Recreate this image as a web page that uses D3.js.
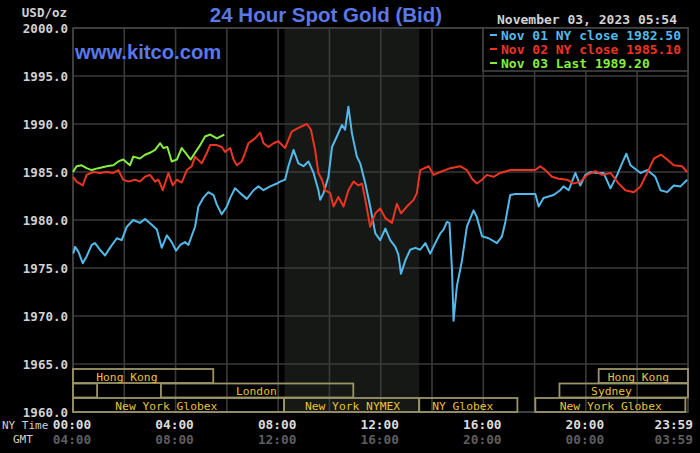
<!DOCTYPE html>
<html><head><meta charset="utf-8">
<script src="https://cdn.jsdelivr.net/npm/d3@7/dist/d3.min.js"></script>
<style>
html,body{margin:0;padding:0;background:#000;}
svg{display:block;}
</style></head><body>
<svg id="c" width="700" height="453"></svg>
<script>
// ---- data ----
const nov01Hours = [0.01,0.08,0.21,0.38,0.53,0.73,0.86,1.05,1.25,1.44,1.71,1.90,2.10,2.35,2.61,2.81,3.07,3.27,3.46,3.66,3.85,4.02,4.18,4.37,4.50,4.76,4.89,5.08,5.28,5.48,5.61,5.80,6.00,6.13,6.32,6.52,6.78,7.04,7.23,7.43,7.69,7.95,8.08,8.27,8.40,8.60,8.79,8.99,9.18,9.38,9.57,9.64,9.77,9.96,10.10,10.29,10.49,10.61,10.74,10.88,11.07,11.20,11.40,11.59,11.79,11.98,12.18,12.37,12.57,12.69,12.79,12.96,13.15,13.35,13.54,13.74,13.93,14.13,14.32,14.45,14.58,14.68,14.78,14.84,14.97,15.17,15.36,15.62,15.75,15.95,16.21,16.53,16.73,16.86,17.05,17.25,18.03,18.16,18.35,18.74,19.00,19.13,19.33,19.59,19.78,19.98,20.18,20.44,20.69,20.96,21.22,21.41,21.58,21.74,22.13,22.39,22.71,22.91,23.17,23.43,23.69,23.95];
const nov01Prices = [1976.5,1977.2,1976.7,1975.5,1976.2,1977.4,1977.6,1976.9,1976.3,1977.1,1978.1,1977.9,1979.3,1980.0,1979.7,1980.1,1979.5,1979.0,1977.1,1978.4,1977.7,1976.8,1977.4,1977.7,1977.4,1979.3,1981.4,1982.3,1982.9,1982.6,1981.6,1980.6,1981.4,1982.3,1983.3,1982.8,1982.2,1983.1,1983.5,1983.1,1983.5,1983.8,1984.0,1984.2,1985.6,1987.3,1985.9,1985.6,1986.1,1984.9,1983.1,1982.1,1982.8,1984.5,1987.6,1988.7,1989.9,1989.4,1991.8,1989.0,1986.6,1985.9,1983.8,1981.4,1978.6,1977.9,1979.1,1977.9,1977.2,1976.4,1974.4,1975.8,1976.9,1977.1,1976.9,1977.6,1976.5,1977.6,1978.6,1979.0,1979.8,1979.7,1974.8,1969.5,1973.1,1975.8,1979.3,1981.0,1980.3,1978.3,1978.1,1977.6,1978.3,1979.8,1982.6,1982.7,1982.7,1981.4,1982.3,1982.6,1983.1,1983.5,1983.1,1984.9,1983.6,1984.7,1985.0,1984.9,1984.9,1983.3,1984.7,1985.9,1986.9,1985.7,1984.9,1985.2,1984.5,1983.1,1982.9,1983.6,1983.5,1984.2];

const nov02Hours = [0,0.14,0.38,0.53,0.79,1.05,1.32,1.57,1.77,1.96,2.16,2.42,2.61,2.81,3.00,3.20,3.33,3.50,3.72,3.89,4.05,4.24,4.44,4.63,4.76,5.02,5.22,5.35,5.61,5.80,5.93,6.13,6.26,6.39,6.58,6.71,6.84,7.10,7.30,7.43,7.62,7.82,8.01,8.27,8.53,8.79,9.12,9.28,9.44,9.57,9.71,9.83,10.03,10.16,10.35,10.55,10.74,10.94,11.13,11.27,11.40,11.59,11.79,11.98,12.18,12.44,12.63,12.79,13.02,13.28,13.41,13.54,13.87,14.06,14.32,14.71,15.10,15.36,15.56,15.75,15.95,16.14,16.40,16.66,17.05,18.03,18.22,18.42,18.68,18.94,19.27,19.52,19.79,20.05,20.37,20.63,20.96,21.28,21.54,21.87,22.13,22.39,22.65,22.93,23.17,23.43,23.75,23.95];
const nov02Prices = [1984.5,1984.0,1983.6,1984.7,1985.0,1984.9,1985.0,1984.9,1985.2,1984.2,1984.0,1984.2,1984.0,1984.5,1984.7,1984.0,1984.2,1983.1,1984.9,1983.6,1984.2,1983.9,1985.2,1985.6,1986.6,1985.9,1987.0,1987.8,1987.8,1987.6,1987.1,1987.5,1986.3,1985.7,1986.1,1987.0,1988.0,1988.5,1989.1,1988.0,1987.6,1988.0,1988.2,1987.5,1989.2,1989.6,1990.0,1989.4,1987.3,1984.9,1984.2,1983.1,1982.8,1981.4,1982.4,1981.4,1983.1,1984.0,1983.6,1983.8,1982.1,1979.3,1980.7,1981.2,1980.2,1979.7,1981.7,1980.7,1981.4,1982.1,1982.8,1985.2,1985.6,1984.7,1985.0,1985.4,1985.6,1985.2,1984.3,1983.8,1984.2,1984.7,1984.5,1984.9,1985.2,1985.2,1985.6,1985.2,1984.5,1984.3,1984.2,1983.8,1984.0,1984.7,1985.1,1984.7,1984.9,1983.8,1983.1,1982.9,1983.5,1984.9,1986.4,1986.8,1986.3,1985.7,1985.6,1985.0];

const nov03Hours = [0,0.14,0.34,0.53,0.73,0.99,1.32,1.57,1.77,1.96,2.22,2.35,2.61,2.81,3.00,3.20,3.40,3.52,3.68,3.85,4.05,4.24,4.44,4.59,4.76,4.96,5.15,5.35,5.61,5.90];
const nov03Prices = [1985.0,1985.6,1985.7,1985.4,1985.2,1985.4,1985.6,1985.7,1986.1,1986.3,1985.7,1986.6,1986.4,1986.8,1987.0,1987.3,1988.0,1987.5,1987.6,1986.1,1986.3,1987.5,1986.8,1986.3,1987.0,1987.8,1988.7,1988.9,1988.5,1988.9];

const legendLabels = ["Nov 01 NY close 1982.50","Nov 02 NY close 1985.10","Nov 03 Last 1989.20"];
const yTicks = [1960,1965,1970,1975,1980,1985,1990,1995,2000];
const xTickHours = [0,4,8,12,16,20,23.983];
const nyTimeLabels = ["00:00","04:00","08:00","12:00","16:00","20:00","23:59"];
const gmtLabels = ["04:00","08:00","12:00","16:00","20:00","00:00","03:59"];
const nymexShade = [8.25, 13.5];
// sessions: row, start hour, end hour, label, label hour
const sessionRows = [0,0,1,1,1,2,2,2,2];
const sessionStart = [0,20.5,0,3.43,18.97,0,8.23,13.5,18.03];
const sessionEnd = [5.47,23.983,0.94,10.93,23.983,8.23,13.5,17.33,23.88];
const sessionNames = ["Hong Kong","Hong Kong","","London","Sydney","New York Globex","New York NYMEX","NY Globex","New York Globex"];
const sessionLabelAt = [2.1,22.05,0,7.15,21.0,3.64,10.9,15.2,20.97];

// ---- drawing ----
const svg = d3.select("#c");
const L = 73, R = 688, T = 28, B = 412;
const x = d3.scaleLinear().domain([0, 23.983]).range([L, R]);
const y = d3.scaleLinear().domain([1960, 2000]).range([B, T]);
const mono = "'DejaVu Sans Mono', 'Liberation Mono', monospace";
const gridCol = "#3a3a3a";

svg.append("rect").attr("width",700).attr("height",453).attr("fill","#000");
// NYMEX shade
svg.append("rect").attr("x",x(nymexShade[0])).attr("y",T)
  .attr("width",x(nymexShade[1])-x(nymexShade[0])).attr("height",B-T).attr("fill","#161816");

// grid
const g = svg.append("g");
g.selectAll("line.h").data(yTicks).join("line")
  .attr("x1",L).attr("x2",R).attr("y1",d=>y(d)).attr("y2",d=>y(d))
  .attr("stroke",gridCol).attr("stroke-width",1.6);
g.selectAll("line.v").data(d3.range(0,24,2)).join("line")
  .attr("y1",T).attr("y2",B).attr("x1",d=>x(d)).attr("x2",d=>x(d))
  .attr("stroke",gridCol).attr("stroke-width",1.6);
svg.append("rect").attr("x",L).attr("y",T).attr("width",R-L).attr("height",B-T)
  .attr("fill","none").attr("stroke","#444").attr("stroke-width",1.6);

// sessions
const rowTop = [369, 383.5, 398];
const rowH = 14;
const sess = sessionRows.map((r,i)=>({r, s:sessionStart[i], e:sessionEnd[i], n:sessionNames[i], la:sessionLabelAt[i]}));
svg.append("g").selectAll("rect").data(sess).join("rect")
  .attr("x",d=>x(d.s)).attr("width",d=>x(d.e)-x(d.s))
  .attr("y",d=>rowTop[d.r]).attr("height",rowH)
  .attr("fill","none").attr("stroke","#9a9468").attr("stroke-width",1.8);
svg.append("g").selectAll("text").data(sess.filter(d=>d.n)).join("text")
  .attr("x",d=>x(d.la)).attr("y",d=>rowTop[d.r]+11.5)
  .attr("text-anchor","middle").attr("font-family",mono).attr("font-size",11.3)
  .attr("fill","#e8c23c").text(d=>d.n);

// lines
const mk = (hs, ps) => hs.map((h,i)=>[h, ps[i]]);
const line = d3.line().x(d=>x(d[0])).y(d=>y(d[1])).curve(d3.curveLinear);
const series = [
  {pts: mk(nov01Hours, nov01Prices), c: "#52baea"},
  {pts: mk(nov02Hours, nov02Prices), c: "#ec3420"},
  {pts: mk(nov03Hours, nov03Prices), c: "#86ee3e"}
];
svg.append("g").selectAll("path").data(series).join("path")
  .attr("d",d=>line(d.pts)).attr("fill","none").attr("stroke",d=>d.c)
  .attr("stroke-width",2).attr("stroke-linejoin","round");

// legend
const lg = svg.append("g");
lg.append("rect").attr("x",483).attr("y",T).attr("width",R-483).attr("height",43)
  .attr("fill","#000").attr("stroke","#444").attr("stroke-width",1.6);
legendLabels.forEach((t,i)=>{
  lg.append("line").attr("x1",490).attr("x2",497).attr("y1",35+i*14).attr("y2",35+i*14)
    .attr("stroke",series[i].c).attr("stroke-width",2);
  lg.append("text").attr("x",501).attr("y",39.5+i*14).attr("font-family",mono)
    .attr("font-size",13).attr("font-weight","bold").attr("fill",series[i].c).text(t);
});

// y axis labels
svg.append("g").selectAll("text").data(yTicks).join("text")
  .attr("x",68).attr("y",d=>y(d)+4.5).attr("text-anchor","end")
  .attr("font-family",mono).attr("font-size",12.5).attr("font-weight","bold")
  .attr("fill","#d2d2d2").text(d=>d3.format(".1f")(d));
svg.append("text").attr("x",67).attr("y",17).attr("text-anchor","end")
  .attr("font-family",mono).attr("font-size",12.5).attr("font-weight","bold")
  .attr("fill","#d2d2d2").text("USD/oz");

// x axis labels
const lastIdx = xTickHours.length - 1;
const xAnchor = (d,i) => i === lastIdx ? "end" : "middle";
const xPos = (d,i) => i === lastIdx ? x(d) + 5 : x(d) - 1;
svg.append("g").selectAll("text").data(xTickHours).join("text")
  .attr("x",xPos).attr("y",429).attr("text-anchor",xAnchor)
  .attr("font-family",mono).attr("font-size",12.8).attr("font-weight","bold")
  .attr("fill","#dcdcdc").text((d,i)=>nyTimeLabels[i]);
svg.append("g").selectAll("text").data(xTickHours).join("text")
  .attr("x",xPos).attr("y",444).attr("text-anchor",xAnchor)
  .attr("font-family",mono).attr("font-size",12.8).attr("font-weight","bold")
  .attr("fill","#5e5e5e").text((d,i)=>gmtLabels[i]);
svg.append("text").attr("x",2).attr("y",429).attr("font-family",mono)
  .attr("font-size",11).attr("fill","#d2d2d2").text("NY Time");
svg.append("text").attr("x",13).attr("y",443).attr("font-family",mono)
  .attr("font-size",11).attr("fill","#d2d2d2").text("GMT");

// titles
svg.append("text").attr("x",326).attr("y",22).attr("text-anchor","middle")
  .attr("font-family","'Liberation Sans', Arial, sans-serif").attr("font-size",20.5)
  .attr("font-weight","bold").attr("fill","#5a78e8").text("24 Hour Spot Gold (Bid)");
svg.append("text").attr("x",75).attr("y",59)
  .attr("font-family","'Liberation Sans', Arial, sans-serif").attr("font-size",20.2)
  .attr("font-weight","bold").attr("fill","#5a78e8").text("www.kitco.com");
svg.append("text").attr("x",497).attr("y",24)
  .attr("font-family",mono).attr("font-size",13).attr("font-weight","bold")
  .attr("fill","#d2d2d2").text("November 03, 2023 05:54");
</script>
</body></html>
